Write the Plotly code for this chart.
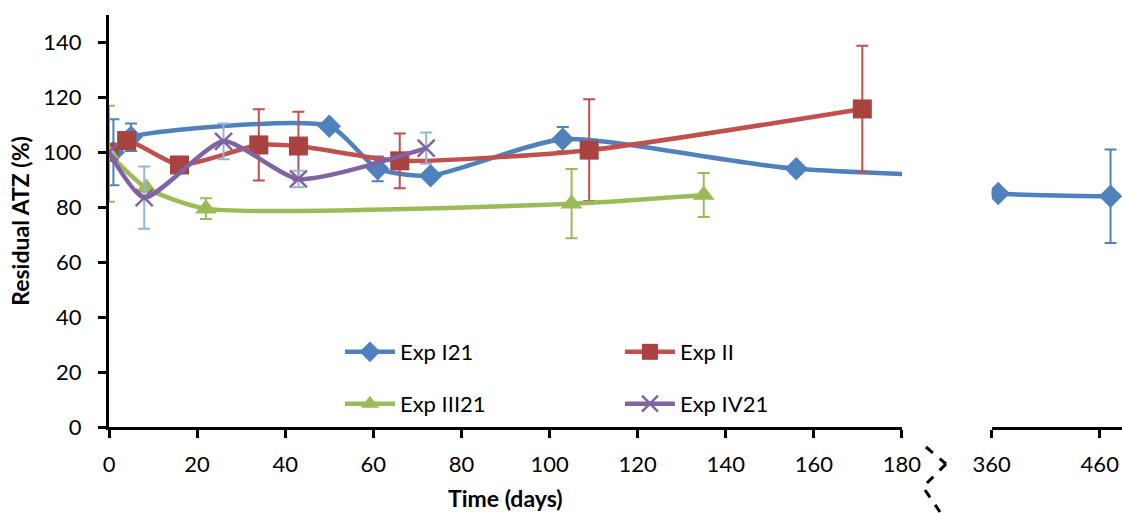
import plotly.graph_objects as go

# ---- data ----
exp1_x = [1, 5, 50, 61, 73, 103, 156, 366, 470]
exp1_y = [100, 105.5, 109.5, 94, 91.5, 104.8, 94, 85, 84]
exp1_e = [12, 5, 0, 4.5, 0, 4.4, 0, 0, 17]

exp2_x = [0, 4, 16, 34, 43, 66, 109, 171]
exp2_y = [100, 104.3, 95.4, 102.7, 102.3, 96.9, 100.8, 115.8]
exp2_e = [0, 0, 0, 13, 12.5, 10, 18.5, 23]

exp3_x = [0, 8.5, 22, 105, 135]
exp3_y = [99.5, 87, 79.5, 81.3, 84.5]
exp3_e = [17.5, 0, 3.8, 12.6, 8]

exp4_x = [0, 8, 26, 43, 72]
exp4_y = [100, 83.5, 104, 90.3, 101.5]
exp4_e = [0, 11.3, 6.5, 3, 5.7]

y_ticks = [0, 20, 40, 60, 80, 100, 120, 140]
x_ticks_left = [0, 20, 40, 60, 80, 100, 120, 140, 160, 180]
x_ticks_right = [360, 460]

FONT = "Lato"
FS = 22
BLUE, RED, GREEN, PURPLE = "#4F81BD", "#C0504D", "#9BBB59", "#8064A2"

series = [
    ("Exp I21", exp1_x, exp1_y, exp1_e, BLUE, "diamond", 18, BLUE, "legend"),
    ("Exp II", exp2_x, exp2_y, exp2_e, RED, "square", 19, "#C0504D", "legend"),
    ("Exp III21", exp3_x, exp3_y, exp3_e, GREEN, "triangle-up", 19, GREEN, "legend2"),
    ("Exp IV21", exp4_x, exp4_y, exp4_e, PURPLE, "x-thin", 17, "#95B3D7", "legend2"),
]

fig = go.Figure()
for name, xs, ys, es, col, sym, size, ecol, leg in series:
    mcol = "#A9433F" if sym == "square" else col
    for xa, show in (("x", True), ("x2", False)):
        fig.add_trace(go.Scatter(
            x=xs, y=ys, name=name, mode="lines+markers",
            xaxis=xa, yaxis="y", showlegend=show, legend=leg,
            line=dict(color=col, width=4.5, shape="spline", smoothing=0.6),
            marker=dict(symbol=sym, size=size, color=mcol,
                        line=dict(color=col, width=2.5 if sym == "x-thin" else 0)),
            error_y=dict(type="data", array=es, visible=True, color=ecol,
                         thickness=2, width=6),
            cliponaxis=True,
        ))

axis_common = dict(showline=True, linecolor="black", linewidth=3,
                   ticks="outside", ticklen=8, tickwidth=3, tickcolor="black",
                   showgrid=False, zeroline=False, automargin=False,
                   tickfont=dict(family=FONT, size=FS, color="black"))

fig.update_layout(
    width=1122, height=513,
    margin=dict(l=109, r=0, t=15, b=86, autoexpand=False),
    paper_bgcolor="white", plot_bgcolor="white",
    font=dict(family=FONT, size=FS, color="black"),
    xaxis=dict(domain=[0, 0.7828], range=[0, 180], tickvals=x_ticks_left,
               anchor="y", ticklabelstandoff=8, **axis_common),
    xaxis2=dict(domain=[0.8714, 1], range=[360, 480.6], tickvals=x_ticks_right,
                anchor="y", ticklabelstandoff=8, **axis_common),
    yaxis=dict(range=[0, 150], tickvals=y_ticks, anchor="x", ticklabelstandoff=12,
               title=dict(text="<b>Residual ATZ (%)</b>", standoff=8,
                          font=dict(family=FONT, size=23)),
               **axis_common),
    legend=dict(orientation="h", x=0.228, y=0.182, xanchor="left", yanchor="middle",
                entrywidth=215, entrywidthmode="pixels", itemwidth=50,
                font=dict(family=FONT, size=FS), bgcolor="rgba(0,0,0,0)"),
    legend2=dict(orientation="h", x=0.228, y=0.056, xanchor="left", yanchor="middle",
                 entrywidth=215, entrywidthmode="pixels", itemwidth=50,
                 font=dict(family=FONT, size=FS), bgcolor="rgba(0,0,0,0)"),
)

# x-axis title, placed low near the page edge like the original
fig.add_annotation(text="<b>Time (days)</b>", xref="paper", yref="paper",
                   x=0.7828 / 2, y=-0.1723, xanchor="center", yanchor="middle",
                   showarrow=False, font=dict(family=FONT, size=23, color="black"))

# axis-break decoration (dashed zigzag)
def px2paper(px, py):
    return (px - 109) / 1013, (427 - py) / 412

brk = [[(926, 447), (946, 464), (927, 483)], [(925, 490), (940, 512)]]
for seg in brk:
    for (ax_, ay_), (bx_, by_) in zip(seg[:-1], seg[1:]):
        x0, y0 = px2paper(ax_, ay_)
        x1, y1 = px2paper(bx_, by_)
        fig.add_shape(type="line", xref="paper", yref="paper",
                      x0=x0, y0=y0, x1=x1, y1=y1,
                      line=dict(color="black", width=3, dash="dash"))

fig.write_html("out.html")
